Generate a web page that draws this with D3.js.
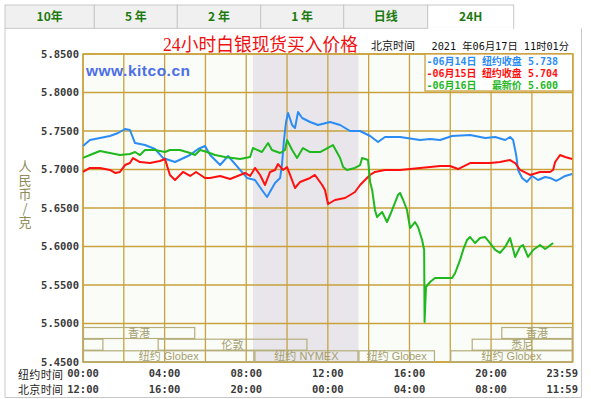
<!DOCTYPE html>
<html><head><meta charset="utf-8">
<script src="https://cdn.jsdelivr.net/npm/d3@7"></script>
<style>
html,body{margin:0;padding:0;background:#fff;}
svg{display:block;}
.vt{writing-mode:vertical-rl;text-orientation:upright;}
</style></head>
<body>
<svg id="chart" width="591" height="399"></svg>
<script>
// ---------- data ----------
const tabLabels = ["10年", "5 年", "2 年", "1 年", "日线", "24H"];
const yTicks = [5.45, 5.50, 5.55, 5.60, 5.65, 5.70, 5.75, 5.80, 5.85];
const xGridHours = [0, 2, 4, 6, 8, 10, 12, 14, 16, 18, 20, 22, 24];
const nyTimeLabels = ["00:00", "04:00", "08:00", "12:00", "16:00", "20:00", "23:59"];
const bjTimeLabels = ["12:00", "16:00", "20:00", "00:00", "04:00", "08:00", "11:59"];
const timeLabelHours = [0, 4, 8, 12, 16, 20, 24];

// series: hours (NY time) and price (CNY/g)
const blueHours = [0,0.34,0.83,1.32,1.72,2.06,2.30,2.55,3.04,3.53,3.92,4.51,5.25,5.64,5.98,6.23,6.72,7.11,7.70,8.04,8.43,8.77,9.02,9.41,9.66,9.75,9.85,9.95,10.05,10.25,10.39,10.54,10.74,11.13,11.52,12.11,12.60,13.09,13.58,14.07,14.46,14.80,15.54,16.52,17.01,17.50,18.09,18.97,19.71,20.20,20.69,20.93,21.08,21.23,21.32,21.52,21.76,22.01,22.30,22.65,22.89,23.19,23.38,23.63,23.97];
const blueValues = [5.7305,5.7383,5.7409,5.7435,5.7474,5.7526,5.7513,5.7344,5.7318,5.7266,5.7150,5.7097,5.7188,5.7266,5.7305,5.7188,5.7058,5.7175,5.6994,5.6890,5.6864,5.6734,5.6643,5.6825,5.6890,5.7058,5.7383,5.7617,5.7734,5.7578,5.7539,5.7747,5.7669,5.7617,5.7578,5.7617,5.7578,5.7500,5.7500,5.7435,5.7357,5.7422,5.7422,5.7383,5.7396,5.7383,5.7435,5.7448,5.7409,5.7422,5.7383,5.7422,5.7383,5.7188,5.6994,5.6890,5.6838,5.6916,5.6864,5.6903,5.6890,5.6851,5.6877,5.6916,5.6942];

const redHours = [0,0.34,0.83,1.32,1.57,1.81,2.06,2.30,2.45,2.79,3.28,3.77,4.02,4.26,4.51,4.90,5.25,5.54,5.98,6.23,6.72,7.21,7.70,7.94,8.19,8.43,8.68,8.92,9.17,9.41,9.56,9.80,10.00,10.15,10.39,10.64,10.88,11.13,11.37,11.72,11.86,12.01,12.35,12.84,13.09,13.33,13.58,13.82,14.07,14.31,14.80,15.54,16.52,17.01,17.50,17.99,18.38,18.97,19.95,20.44,20.93,21.18,21.42,21.91,22.40,22.89,23.04,23.14,23.38,23.63,23.97];
const redValues = [5.6968,5.7020,5.7020,5.6994,5.6955,5.6968,5.7058,5.7084,5.7149,5.7097,5.7084,5.7110,5.7136,5.6929,5.6864,5.6968,5.6916,5.6968,5.6890,5.6890,5.6916,5.6877,5.6929,5.6955,5.6916,5.7020,5.6929,5.6799,5.6968,5.6994,5.7071,5.6994,5.7032,5.6929,5.6760,5.6838,5.6864,5.6890,5.6929,5.6799,5.6734,5.6552,5.6604,5.6630,5.6669,5.6708,5.6799,5.6864,5.6929,5.6968,5.6994,5.6994,5.7020,5.7032,5.7045,5.7045,5.7006,5.7084,5.7084,5.7097,5.7123,5.7084,5.6994,5.6929,5.6968,5.6968,5.6994,5.7097,5.7188,5.7162,5.7136];

const greenHours = [0,0.34,0.83,1.32,1.81,2.30,2.55,2.79,3.04,3.53,4.02,4.26,4.75,5.25,5.49,5.74,6.08,6.47,6.96,7.70,8.19,8.33,8.77,9.07,9.26,9.66,9.90,10.00,10.25,10.49,10.78,11.13,11.62,12.25,12.60,12.75,12.94,13.33,13.58,13.68,13.97,14.07,14.17,14.31,14.41,14.66,14.90,15.05,15.44,15.54,15.69,15.88,16.03,16.27,16.42,16.62,16.72,16.74,16.81,17.01,17.25,18.09,18.24,18.48,18.63,18.82,18.97,19.22,19.46,19.71,19.95,20.20,20.44,20.69,20.93,21.18,21.42,21.57,21.81,22.06,22.40,22.65,22.79,23.04];
const greenValues = [5.7150,5.7188,5.7240,5.7214,5.7188,5.7201,5.7227,5.7188,5.7253,5.7253,5.7227,5.7253,5.7253,5.7214,5.7188,5.7253,5.7227,5.7188,5.7162,5.7136,5.7162,5.7279,5.7227,5.7344,5.7253,5.7214,5.7253,5.7383,5.7253,5.7150,5.7279,5.7227,5.7227,5.7318,5.7150,5.7032,5.6994,5.7020,5.7058,5.7150,5.7123,5.6838,5.6734,5.6474,5.6383,5.6448,5.6318,5.6409,5.6669,5.6695,5.6604,5.6474,5.6240,5.6318,5.6253,5.6084,5.5955,5.5020,5.5474,5.5539,5.5591,5.5591,5.5656,5.5825,5.5955,5.6084,5.6123,5.6045,5.6110,5.6123,5.6045,5.5955,5.5916,5.5994,5.6110,5.5864,5.5994,5.6019,5.5864,5.5955,5.6019,5.5968,5.5994,5.6045];

const legendDates = ["-06月14日", "-06月15日", "-06月16日"];
const legendTexts = ["纽约收盘 5.738", "纽约收盘 5.704", "最新价 5.600"];

// market sessions (NY hours)
const sessionNames = ["香港", "香港", "", "伦敦", "悉尼", "纽约 Globex", "纽约 NYMEX", "纽约 Globex", "纽约 Globex"];
const sessionRows = [0, 0, 1, 1, 1, 2, 2, 2, 2];
const sessionStarts = [0, 20.5, 0, 3.66, 19.05, 0, 8.4, 13.5, 18];
const sessionEnds = [5.5, 24, 1, 11.0, 24, 8.4, 13.5, 17.25, 24];
const nymexStart = 8.33, nymexEnd = 13.5;

// ---------- drawing ----------
(function () {
const svg = d3.select("#chart");
const pL = 83, pR = 572.7, pT = 54, pB = 362;
const x = d3.scaleLinear().domain([0, 24]).range([pL, pR]);
const y = d3.scaleLinear().domain([5.45, 5.85]).range([pB, pT]);
const grid = "#c9a23e";
const cjk = "'Noto Sans CJK SC', 'Noto Sans', sans-serif";
const mono = "'DejaVu Sans Mono', 'Noto Sans CJK SC', monospace";

// tabs
const tabEdges = [5, 94.3, 177.3, 260.7, 343.7, 427.7, 513.7];
tabLabels.forEach((t, i) => {
  const active = i === tabLabels.length - 1;
  svg.append("rect").attr("x", tabEdges[i]).attr("y", 5)
    .attr("width", tabEdges[i + 1] - tabEdges[i]).attr("height", 23.3)
    .attr("fill", active ? "#fff" : "#f0f0f0").attr("stroke", "#c8c8c8");
  svg.append("text").attr("x", (tabEdges[i] + tabEdges[i + 1]) / 2).attr("y", 21)
    .attr("text-anchor", "middle").attr("font-family", cjk).attr("font-weight", "bold")
    .attr("font-size", 12).attr("fill", "#1d7a0e").text(t);
});
svg.append("line").attr("x1", tabEdges[5] + 0.5).attr("x2", tabEdges[6] - 0.5)
  .attr("y1", 28.3).attr("y2", 28.3).attr("stroke", "#fff").attr("stroke-width", 1.5);
svg.append("path").attr("d", "M5,28.3 V397.5 H581.5 V28.3").attr("fill", "none").attr("stroke", "#c8c8c8");

// plot background
svg.append("rect").attr("x", pL).attr("y", pT).attr("width", pR - pL).attr("height", pB - pT)
  .attr("fill", "#fafcf7");
svg.append("rect").attr("x", x(nymexStart)).attr("y", pT).attr("width", x(nymexEnd) - x(nymexStart))
  .attr("height", pB - pT).attr("fill", "#e8e6ea");

// grid
svg.append("g").selectAll("line").data(yTicks).join("line")
  .attr("x1", pL).attr("x2", pR).attr("y1", d => y(d)).attr("y2", d => y(d))
  .attr("stroke", grid).attr("stroke-width", 1.3);
svg.append("g").selectAll("line").data(xGridHours).join("line")
  .attr("x1", d => x(d)).attr("x2", d => x(d)).attr("y1", pT).attr("y2", pB)
  .attr("stroke", grid).attr("stroke-width", 1.3);
svg.append("rect").attr("x", pL).attr("y", pT).attr("width", pR - pL).attr("height", pB - pT)
  .attr("fill", "none").attr("stroke", grid).attr("stroke-width", 1.5);

// sessions
const rowTop = [327.5, 339.2, 350.8];
const rowH = 11;
const sess = sessionNames.map((n, i) => ({ n, r: sessionRows[i], s: sessionStarts[i], e: sessionEnds[i] }));
const sg = svg.append("g");
sess.forEach(d => {
  sg.append("rect").attr("x", x(d.s) + 0.5).attr("y", rowTop[d.r])
    .attr("width", x(d.e) - x(d.s) - 1).attr("height", rowH)
    .attr("fill", "none").attr("stroke", "#b4ad7c").attr("stroke-width", 1.2);
  if (d.n) {
    sg.append("text").attr("x", (x(d.s) + x(d.e)) / 2).attr("y", rowTop[d.r] + 9.5)
      .attr("text-anchor", "middle").attr("font-family", "'Liberation Sans', " + cjk)
      .attr("font-size", 11).attr("fill", "#a59f70").text(d.n);
  }
});

// series lines
const line = d3.line().x(d => x(d[0])).y(d => y(d[1]));
function drawSeries(hours, values, color) {
  svg.append("path").datum(hours.map((h, i) => [h, values[i]]))
    .attr("d", line).attr("fill", "none").attr("stroke", color)
    .attr("stroke-width", 2).attr("stroke-linejoin", "round");
}
drawSeries(blueHours, blueValues, "#2b8cf5");
drawSeries(redHours, redValues, "#ff1010");
drawSeries(greenHours, greenValues, "#1fb81f");

// y-axis labels
svg.append("g").selectAll("text").data(yTicks).join("text")
  .attr("x", 79).attr("y", d => y(d) + 3.5).attr("text-anchor", "end")
  .attr("font-family", mono).attr("font-weight", "bold").attr("font-size", 10.5)
  .attr("fill", "#3a3a3a").text(d => d.toFixed(4));

// y-axis title (vertical, single text)
svg.append("text").attr("class", "vt").attr("x", 25).attr("y", 160)
  .attr("font-family", cjk).attr("font-size", 13).attr("letter-spacing", 1)
  .attr("fill", "#8f8c58").text("人民币/克");

// x-axis labels
svg.append("text").attr("x", 18).attr("y", 378.5).attr("font-family", cjk).attr("font-size", 11)
  .attr("fill", "#222").attr("textLength", 45).text("纽约时间");
svg.append("text").attr("x", 18).attr("y", 393.5).attr("font-family", cjk).attr("font-size", 11)
  .attr("fill", "#222").attr("textLength", 45).text("北京时间");
[nyTimeLabels, bjTimeLabels].forEach((labels, row) => {
  svg.append("g").selectAll("text").data(labels).join("text")
    .attr("x", (d, i) => i === labels.length - 1 ? 578 : x(timeLabelHours[i]))
    .attr("y", 377 + row * 15.5)
    .attr("text-anchor", (d, i) => i === labels.length - 1 ? "end" : "middle")
    .attr("font-family", mono).attr("font-weight", "bold").attr("font-size", 10.5)
    .attr("fill", "#3a3a3a").text(d => d);
});

// title
svg.append("text").attr("x", 163).attr("y", 51).attr("font-family", "'Liberation Serif', 'Noto Sans CJK SC', serif")
  .attr("font-size", 18.5).attr("fill", "#f01010").attr("textLength", 195).attr("lengthAdjust", "spacingAndGlyphs")
  .text("24小时白银现货买入价格");
svg.append("text").attr("x", 371).attr("y", 50).attr("font-family", cjk).attr("font-size", 11)
  .attr("fill", "#111").text("北京时间");
svg.append("text").attr("x", 431.5).attr("y", 50).attr("font-family", mono).attr("font-size", 10.5)
  .attr("fill", "#111").attr("textLength", 137.5).attr("lengthAdjust", "spacingAndGlyphs")
  .text("2021 年06月17日 11时01分");

// watermark
svg.append("text").attr("x", 86).attr("y", 76).attr("font-family", "'Liberation Sans', Arial, sans-serif")
  .attr("font-weight", "bold").attr("font-size", 15.5).attr("fill", "#4d6fe6")
  .attr("textLength", 104).text("www.kitco.cn");

// legend
svg.append("rect").attr("x", 425).attr("y", 54).attr("width", pR - 425).attr("height", 37)
  .attr("fill", "#fff").attr("stroke", grid).attr("stroke-width", 1.3);
const legendColors = ["#2b8cf5", "#ff1010", "#1fb81f"];
legendDates.forEach((d, i) => {
  svg.append("text").attr("x", 426.5).attr("y", 64.5 + i * 12).attr("font-family", mono)
    .attr("font-weight", "bold").attr("font-size", 10).attr("fill", legendColors[i]).text(d);
  svg.append("text").attr("x", 558).attr("y", 64.5 + i * 12).attr("text-anchor", "end").attr("font-family", mono)
    .attr("font-weight", "bold").attr("font-size", 10).attr("fill", legendColors[i]).text(legendTexts[i]);
});
})();
</script>
</body></html>
